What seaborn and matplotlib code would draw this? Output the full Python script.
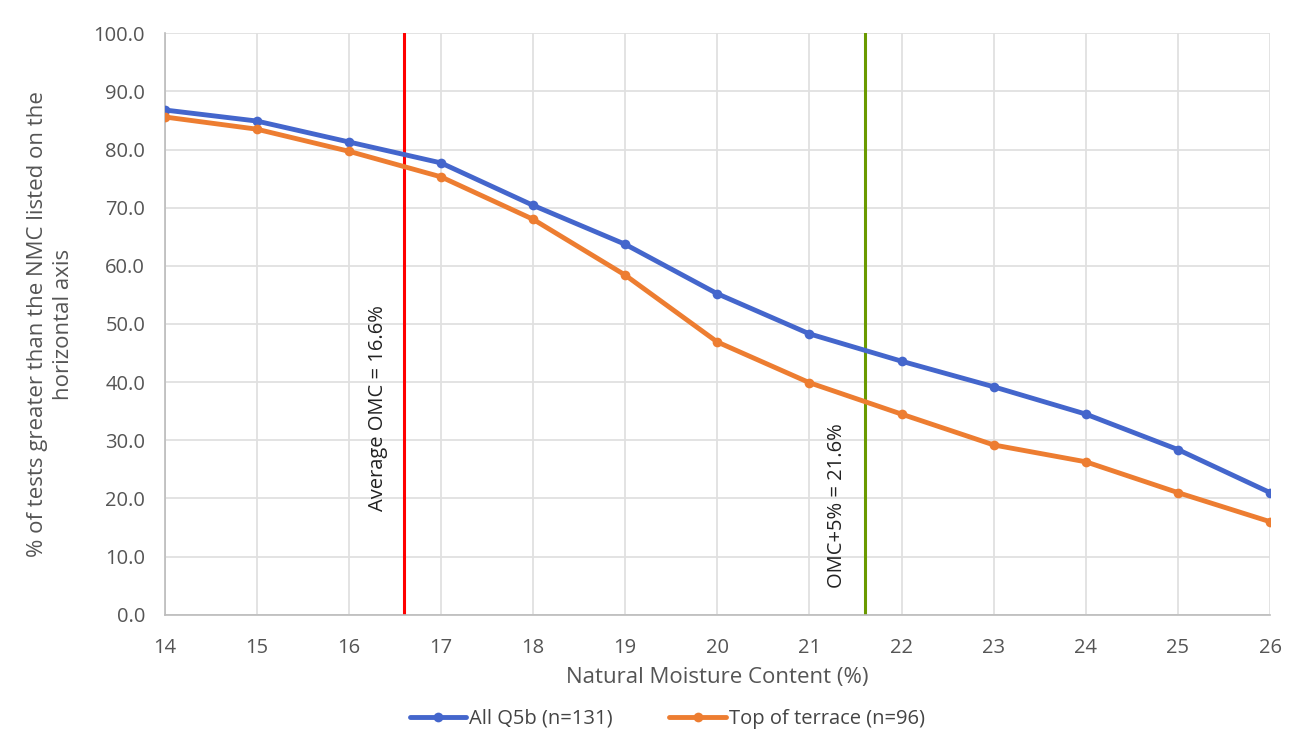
import pandas as pd
import matplotlib.pyplot as plt
import seaborn as sns

# ── Data ───────────────────────────────────────────────
nmc = [14, 15, 16, 17, 18, 19, 20, 21, 22, 23, 24, 25, 26]
all_q5b = [86.8, 84.9, 81.3, 77.7, 70.4, 63.7, 55.2, 48.3, 43.6, 39.2, 34.5, 28.4, 21.0]
top_terrace = [85.6, 83.5, 79.7, 75.3, 68.0, 58.4, 46.9, 39.9, 34.5, 29.2, 26.3, 21.0, 16.0]
series_names = ["All Q5b (n=131)", "Top of terrace (n=96)"]
avg_omc = 16.6
omc_plus5 = 21.6

df = pd.DataFrame({
    "NMC": nmc * 2,
    "Pct": all_q5b + top_terrace,
    "Series": [series_names[0]] * len(nmc) + [series_names[1]] * len(nmc),
})

sns.set_theme(style="whitegrid")
plt.rcParams["font.family"] = ["Open Sans", "DejaVu Sans"]

fig = plt.figure(figsize=(12.96, 7.38), dpi=100)
ax = fig.add_axes([0.127, 0.167, 0.853, 0.788])

palette = {series_names[0]: "#4466cc", series_names[1]: "#ed7d31"}
sns.lineplot(data=df, x="NMC", y="Pct", hue="Series", palette=palette,
             marker="o", markersize=7, markeredgewidth=0, linewidth=3.5,
             ax=ax, legend=False, zorder=3)

# reference lines
ax.axvline(avg_omc, color="#ff0000", linewidth=2.2, zorder=2)
ax.axvline(omc_plus5, color="#6a9a00", linewidth=2.2, zorder=2)
ax.text(avg_omc - 0.28, 35.5, "Average OMC = 16.6%", rotation=90,
        ha="center", va="center", fontsize=14.5, color="#222222")
ax.text(omc_plus5 - 0.3, 18.8, "OMC+5% = 21.6%", rotation=90,
        ha="center", va="center", fontsize=14.5, color="#222222")

ax.set_xlim(14, 26)
ax.set_ylim(0, 100)
ax.set_xticks(nmc)
ax.set_yticks(range(0, 101, 10))
ax.set_yticklabels([f"{v:.1f}" for v in range(0, 101, 10)])
ax.tick_params(axis="both", labelsize=14.5, colors="#555555")
ax.tick_params(axis="x", pad=11)
ax.tick_params(axis="y", pad=8)

ax.grid(True, color="#e0e0e0", linewidth=1.3)
for side in ["top", "right"]:
    ax.spines[side].set_visible(False)
for side in ["left", "bottom"]:
    ax.spines[side].set_color("#bbbbbb")
    ax.spines[side].set_linewidth(1.2)

ax.set_xlabel("Natural Moisture Content (%)", fontsize=16, color="#555555", labelpad=6)
ax.set_ylabel("% of tests greater than the NMC listed on the\nhorizontal axis",
              fontsize=16, color="#555555", labelpad=14, linespacing=1.3)

handles = [plt.Line2D([], [], color=palette[s], linewidth=3.5, marker="o",
                      markersize=7, markeredgewidth=0) for s in series_names]
fig.legend(handles, series_names, loc="lower center", bbox_to_anchor=(0.515, -0.012),
           ncol=2, frameon=False, fontsize=14.5, handlelength=2.8,
           handletextpad=0.15, columnspacing=2.8, labelcolor="#444444")

plt.savefig("out.png", dpi=100)
plt.close()
